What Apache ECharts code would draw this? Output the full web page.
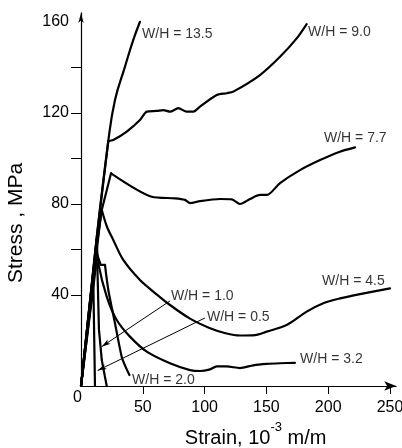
<!DOCTYPE html>
<html><head><meta charset="utf-8">
<script src="https://cdn.jsdelivr.net/npm/echarts@6/dist/echarts.min.js"></script>
<style>html,body{margin:0;padding:0;background:#fff}#c{width:402px;height:448px}</style>
</head><body><div id="c"></div>
<script>
// Tick values
const strainTicks = [50, 100, 150, 200, 250];
const stressLabels = [40, 80, 120, 160];
const stressTicks = [40, 60, 80, 100, 120, 140];

// Curves: [strain (10^-3 m/m), stress (MPa)]
const wh135 = [[0,0],[12.5,64.2],[22.1,107.7],[27.5,125.7],[35.6,140.4],[42.3,152.1],[47.7,160.1]];
const wh90 = [[0,0],[12.5,64.2],[22.1,107.7],[26.1,108.1],[37.0,111.8],[47.7,116.9],[53.2,120.6],[61.2,120.9],[66.6,121.3],[72.0,120.6],[78.7,122.1],[85.5,120.6],[90.9,120.6],[96.3,122.8],[109.8,127.9],[117.9,128.7],[123.2,129.4],[144.8,136.7],[161.0,144.7],[174.5,152.8],[182.6,159.1]];
const wh77 = [[0,0],[5.5,28],[11.1,55.4],[16.8,77.4],[24.3,93.5],[57.2,83.2],[76.1,82.5],[84.1,81.8],[88.2,80.4],[96.3,81.3],[112.5,82.2],[122,82],[128.6,80.0],[136.7,82.2],[144.8,84.0],[150.5,84.0],[161,89.2],[177.2,94.9],[193.4,99.3],[209.5,103],[221.7,104.9]];
const wh45 = [[0,0],[16.6,77.8],[21,70],[26.1,64.2],[34.2,55.4],[47.7,46.6],[61.2,40.3],[72,35.6],[88.2,29.6],[104.4,25.4],[117,23.2],[128.6,22.2],[140.8,22.4],[150.2,23.9],[166.4,26.8],[182.6,32.7],[196,36.4],[209.5,38.5],[225.7,40.4],[250,42.9]];
const wh32 = [[0,0],[12.9,62],[14,53.9],[20.8,39.3],[28.9,29.0],[39.6,21.7],[53.2,15.1],[72,10],[88.2,7],[96.3,6.6],[104.4,7.3],[109.8,8.6],[117.9,8.6],[128.6,7.9],[139.4,9.1],[150.2,9.7],[161,10.0],[173.1,10.2]];
const wh20 = [[0,0],[13.2,57.6],[15.9,53.2],[19.4,53.2],[22.1,42.2],[27.5,27.6],[32.9,12.9],[36,8.5],[39.2,4.8]];
const wh10 = [[0,0],[12.7,64.2],[13.6,45],[14.5,25],[16.8,11.4],[20.8,0]];
const wh05 = [[0,0],[10,45.1],[11.3,0]];

const curves = [wh135, wh90, wh77, wh45, wh32, wh20, wh10, wh05];
const curveNames = ['W/H = 13.5','W/H = 9.0','W/H = 7.7','W/H = 4.5','W/H = 3.2','W/H = 2.0','W/H = 1.0','W/H = 0.5'];
// index where the smooth post-peak part of each curve starts (-1: no smoothing)
const smoothFrom = [1, 2, 4, 1, 1, 3, -1, -1];
const smoothAmount = [0.45, 0.25, 0.25, 0.3, 0.25, 0.25, 0, 0];
// label anchor (left-middle of text), data coords
const labelAnchors = [[49.4,154.7],[183.7,155.6],[196.6,109.0],[195.0,46.2],[177.2,11.9],[41.3,2.6],[72.8,39.6],[101.9,30.3]];
// leader arrows: from label to curve
const arrow10 = [[72.0,37.4],[16.7,17.3]];
const arrow05 = [[100.3,29.9],[13.5,6.8]];

const FONT = 'Liberation Sans, Arial, Helvetica, sans-serif';
const chart = echarts.init(document.getElementById('c'), null, {renderer:'canvas'});

const baseLine = {type: 'line', showSymbol: false, symbol: 'none', silent: true, z: 3,
  lineStyle: {color: '#000', width: 2.2, cap: 'round', join: 'round'}};
const series = [];
curves.forEach((d, i) => {
  const k = smoothFrom[i];
  if (k < 0) {
    series.push(Object.assign({}, baseLine, {name: curveNames[i], data: d}));
  } else {
    if (k > 0) series.push(Object.assign({}, baseLine, {name: curveNames[i], data: d.slice(0, k + 1)}));
    series.push(Object.assign({}, baseLine, {name: curveNames[i] + ' ', data: d.slice(k), smooth: smoothAmount[i]}));
  }
});
series.push({
  type: 'scatter', symbolSize: 0, silent: true, z: 5,
  data: labelAnchors.map((p, i) => ({value: p, name: curveNames[i]})),
  label: {show: true, position: 'right', distance: 0, formatter: '{b}', color: '#000', fontSize: 14, fontFamily: FONT}
});
series.push({
  type: 'line', data: [], silent: true,
  markLine: {
    silent: true, symbol: ['none', 'arrow'], symbolSize: [4, 9], animation: false,
    lineStyle: {color: '#000', width: 1, type: 'solid'}, label: {show: false},
    data: [
      [{coord: arrow10[0]}, {coord: arrow10[1]}],
      [{coord: arrow05[0]}, {coord: arrow05[1]}]
    ]
  }
});

chart.setOption({
  animation: false,
  backgroundColor: '#fff',
  grid: {left: 81, right: 5.8, top: 12.9, bottom: 62, containLabel: false, outerBoundsMode: 'none'},
  xAxis: {
    type: 'value', min: 0, max: 255,
    axisLine: {show: true, lineStyle: {color: '#000', width: 1.2}, symbol: ['none', 'arrow'], symbolSize: [7, 12]},
    axisTick: {show: true, length: 8, lineStyle: {color: '#000', width: 1}, customValues: strainTicks},
    axisLabel: {show: true, margin: 14, fontSize: 16, color: '#000', fontFamily: FONT, customValues: strainTicks},
    splitLine: {show: false},
    name: '{m|Strain, 10}{sup|-3}{m| m/m}', nameLocation: 'middle', nameGap: 33,
    nameTextStyle: {fontFamily: FONT, color: '#000', fontSize: 20, padding: [0, 0, 0, 34],
      rich: {m: {fontSize: 20, lineHeight: 36, verticalAlign: 'middle', fontFamily: FONT, color: '#000'},
             sup: {fontSize: 13, lineHeight: 13, verticalAlign: 'top', fontFamily: FONT, color: '#000'}}}
  },
  yAxis: {
    type: 'value', min: 0, max: 164,
    axisLine: {show: true, lineStyle: {color: '#000', width: 1.2}, symbol: ['none', 'arrow'], symbolSize: [4, 10]},
    axisTick: {show: true, length: 10, lineStyle: {color: '#000', width: 1}, customValues: stressTicks},
    axisLabel: {show: true, margin: 12, fontSize: 16, color: '#000', fontFamily: FONT, customValues: stressLabels},
    splitLine: {show: false},
    name: 'Stress , MPa', nameLocation: 'middle', nameGap: 54,
    nameTextStyle: {fontFamily: FONT, color: '#000', fontSize: 21, padding: [0, 47, 0, 0]}
  },
  series: series
});

const o = chart.convertToPixel({gridIndex: 0}, [0, 0]);
chart.setOption({
  graphic: [{
    type: 'text', x: o[0] - 3.5, y: o[1] + 12, silent: true,
    style: {text: '0', font: '16px ' + FONT, fill: '#000', align: 'center', verticalAlign: 'middle', textAlign: 'center', textVerticalAlign: 'middle'}
  }]
});
</script></body></html>
